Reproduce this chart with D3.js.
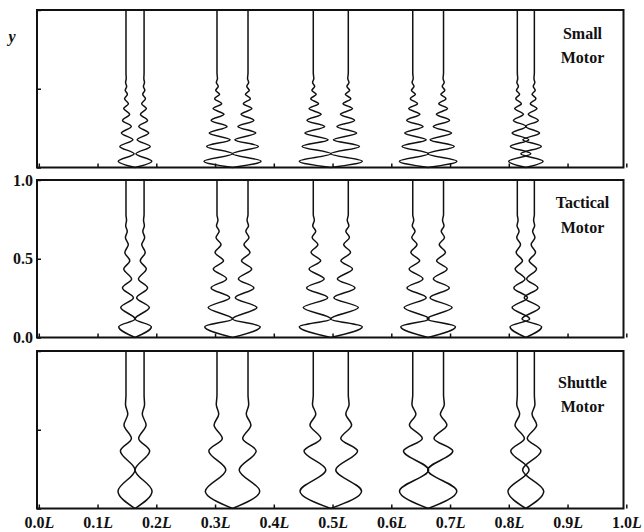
<!DOCTYPE html>
<html>
<head>
<meta charset="utf-8">
<script src="https://cdn.jsdelivr.net/npm/d3@7"></script>
<style>
  body { margin: 0; background: #fff; }
  svg { display: block; }
  text { font-family: "Liberation Serif", "Times New Roman", serif; font-weight: bold; fill: #111; }
</style>
</head>
<body>
<svg id="chart" width="644" height="532"></svg>
<script>
// station centres along the motor (fraction of L) and half gap of the straight part
const stationX   = [0.1638, 0.3297, 0.497, 0.6627, 0.829];
const stationGap = [0.0154, 0.0264, 0.0298, 0.0262, 0.0145];

// small motor: heights of the wave extrema (outward, inward, outward ...)
const smallPeakY = [0.040, 0.087, 0.134, 0.176, 0.219, 0.261, 0.299, 0.338, 0.374, 0.405,
                    0.437, 0.465, 0.490, 0.515, 0.540, 0.565];
const smallRel   = [1, 1, 0.8, 0.85, 0.6, 0.65, 0.45, 0.45, 0.3, 0.3,
                    0.18, 0.17, 0.1, 0.08, 0.05, 0.03];
const smallOut   = [0.0131, 0.0221, 0.0238, 0.0228, 0.0148];
const smallIn    = [0.0139, 0.0264, 0.0298, 0.0270, 0.0230];

// tactical motor
const tacticalPeakY = [0.068, 0.118, 0.190, 0.253, 0.315, 0.372, 0.435, 0.487, 0.540, 0.590,
                       0.635, 0.675, 0.710, 0.745];
const tacticalRel   = [1, 1, 0.72, 0.82, 0.48, 0.62, 0.3, 0.42, 0.16, 0.26, 0.08, 0.14, 0.04, 0.06];
const tacticalOut   = [0.0124, 0.0209, 0.0238, 0.0204, 0.0124];
const tacticalIn    = [0.0154, 0.0264, 0.0300, 0.0280, 0.0210];

// shuttle motor
const shuttlePeakY = [0.110, 0.245, 0.365, 0.445, 0.530, 0.600, 0.660];
const shuttleRel   = [1, 1, 0.7, 0.6, 0.25, 0.2, 0.06];
const shuttleOut   = [0.0136, 0.0199, 0.0226, 0.0226, 0.0160];
const shuttleIn    = [0.0154, 0.0150, 0.0213, 0.0270, 0.0200];

// axis ticks
const xTicks = [0, 0.1, 0.2, 0.3, 0.4, 0.5, 0.6, 0.7, 0.8, 0.9, 1.0];
const yTicks = [0, 0.5, 1.0];

const panels = [
  { name: ["Small", "Motor"],    peakY: smallPeakY,    rel: smallRel,    ampOut: smallOut,    ampIn: smallIn,    settle: 0.60,
    top: 10,  labelY: [29, 53] },
  { name: ["Tactical", "Motor"], peakY: tacticalPeakY, rel: tacticalRel, ampOut: tacticalOut, ampIn: tacticalIn, settle: 0.78,
    top: 180, labelY: [28, 53] },
  { name: ["Shuttle", "Motor"],  peakY: shuttlePeakY,  rel: shuttleRel,  ampOut: shuttleOut,  ampIn: shuttleIn,  settle: 0.72,
    top: 351, labelY: [37, 61] }
];

const panelHeight = 157.5;
const boxLeft = 37, boxRight = 623.5;

const svg = d3.select("#chart");
const x = d3.scaleLinear().domain([0, 1]).range([38.8, 626.3]);

// one side of a station: starts at the centre at y = 0, then zig-zags out and in
function sidePoints(p, s, side) {
  const c = stationX[s], g = stationGap[s];
  const pts = [[0, c]];
  p.peakY.forEach((py, i) => {
    const dev = (i % 2 === 0) ? p.rel[i] * p.ampOut[s] : -p.rel[i] * p.ampIn[s];
    pts.push([py, c + side * (g + dev)]);
  });
  pts.push([p.settle, c + side * g], [1, c + side * g]);
  return pts;
}

panels.forEach((p, k) => {
  const y = d3.scaleLinear().domain([0, 1]).range([p.top + panelHeight, p.top]);
  const g = svg.append("g").attr("class", "panel");

  const line = d3.line()
    .x(d => x(d[1]))
    .y(d => y(d[0]))
    .curve(d3.curveMonotoneY);

  stationX.forEach((c, s) => {
    [-1, 1].forEach(side => {
      g.append("path")
        .attr("d", line(sidePoints(p, s, side)))
        .attr("fill", "none")
        .attr("stroke", "#111")
        .attr("stroke-width", 1.5);
    });
  });

  // frame
  g.append("rect")
    .attr("x", boxLeft).attr("y", p.top)
    .attr("width", boxRight - boxLeft).attr("height", panelHeight)
    .attr("fill", "none").attr("stroke", "#111").attr("stroke-width", 2);

  // x ticks (labels only on the bottom panel)
  const xAxis = d3.axisBottom(x).tickValues(xTicks).tickSizeInner(-4).tickSizeOuter(0).tickPadding(8)
    .tickFormat(k === 2 ? (d => d.toFixed(1)) : "");
  const xg = g.append("g")
    .attr("transform", "translate(0," + (p.top + panelHeight) + ")")
    .call(xAxis);
  xg.select(".domain").remove();
  xg.selectAll("line").attr("stroke", "#111").attr("stroke-width", 1.5);
  if (k === 2) {
    xg.selectAll("text")
      .attr("font-family", null).style("font-size", "16px").attr("fill", "#111")
      .append("tspan").style("font-style", "italic").text("L");
  }

  // y ticks (labels only on the middle panel)
  const yAxis = d3.axisLeft(y).tickValues(yTicks).tickSizeInner(-4).tickSizeOuter(0).tickPadding(4)
    .tickFormat(k === 1 ? (d => d.toFixed(1)) : "");
  const yg = g.append("g")
    .attr("transform", "translate(" + boxLeft + ",0)")
    .call(yAxis);
  yg.select(".domain").remove();
  yg.selectAll("line").attr("stroke", "#111").attr("stroke-width", 1.5);
  yg.selectAll("text").attr("font-family", null).style("font-size", "16px").attr("fill", "#111");

  // panel name
  p.name.forEach((t, i) => {
    g.append("text")
      .attr("x", 582.5).attr("y", p.top + p.labelY[i])
      .attr("text-anchor", "middle")
      .style("font-size", "16px")
      .text(t);
  });
});

svg.append("text")
  .attr("x", 12).attr("y", 42)
  .attr("text-anchor", "middle")
  .style("font-size", "16px").style("font-style", "italic")
  .text("y");
</script>
</body>
</html>
